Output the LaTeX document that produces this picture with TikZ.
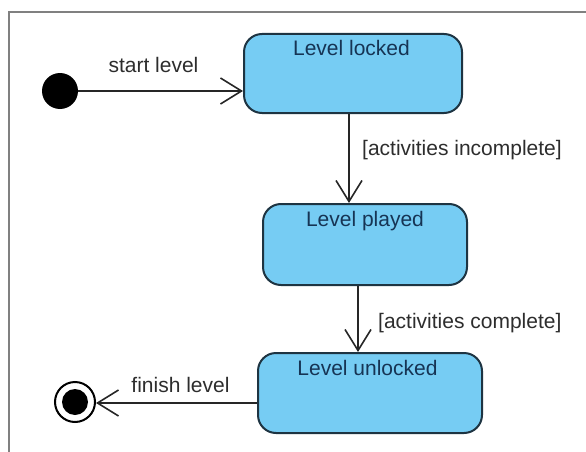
\documentclass[tikz,border=0pt]{standalone}
\usepackage{fontspec}
\setmainfont{Liberation Sans}
\usetikzlibrary{arrows.meta,calc}
\definecolor{statefill}{RGB}{118,204,243}
\definecolor{stateline}{RGB}{30,52,66}
\definecolor{titletext}{RGB}{22,52,84}
\definecolor{labeltext}{RGB}{45,45,45}
\definecolor{framegray}{RGB}{128,128,128}
\tikzset{
  statebox/.style={draw=stateline, line width=2pt, fill=statefill, rounded corners=18pt, inner sep=0pt},
  titletxt/.style={text=titletext, font=\fontsize{21}{25}\selectfont, inner sep=0pt, anchor=base},
  labeltxt/.style={text=labeltext, font=\fontsize{21}{25}\selectfont, inner sep=0pt, anchor=base},
  conn/.style={draw=black!85, line width=1.8pt, -{Straight Barb[length=21pt,width=26pt,line width=1.6pt]}},
}
\begin{document}
\begin{tikzpicture}[x=1pt,y=-1pt]
\useasboundingbox (0,0) rectangle (586,452);
% frame
\draw[framegray, line width=2pt] (9,452) -- (9,12) -- (586,12);
% initial state
\node[circle, fill=black, minimum size=36pt, inner sep=0pt] (init) at (60,91) {};
% states
\node[statebox, minimum width=218pt, minimum height=79pt] (locked) at (353,73.5) {};
\node[statebox, minimum width=204pt, minimum height=81pt] (played) at (365,244.5) {};
\node[statebox, minimum width=224pt, minimum height=80pt] (unlocked) at (370,393) {};
% titles
\node[titletxt] (tlocked) at (351.5,56) {Level locked};
\node[titletxt] (tplayed) at (365,226) {Level played};
\node[titletxt] (tunlocked) at (367.5,375) {Level unlocked};
% final state
\node[circle, draw=black, line width=2pt, fill=white, minimum size=40pt, inner sep=0pt] (final) at (75,402) {};
\node[circle, fill=black, minimum size=26pt, inner sep=0pt] (finalin) at (final.center) {};
% connectors
\coordinate (a1) at (locked.west |- init.east);
\draw[conn] (init.east) -- (a1);
\coordinate (b0) at (349,113);
\coordinate (b1) at (b0 |- played.north);
\draw[conn] (b0 |- locked.south) -- (b1);
\coordinate (c0) at (358,285);
\coordinate (c1) at (c0 |- unlocked.north);
\draw[conn] (c0 |- played.south) -- (c1);
\coordinate (d0) at (unlocked.west |- 0,403);
\draw[conn] (d0) -- (final.east |- d0);
% labels
\node[labeltxt] (lstart) at (153.5,73) {start level};
\node[labeltxt, anchor=base west] (linc) at (362,155) {[activities incomplete]};
\node[labeltxt, anchor=base west] (lcomp) at (378,328) {[activities complete]};
\node[labeltxt] (lfinish) at (180.5,392) {finish level};
\end{tikzpicture}
\end{document}
